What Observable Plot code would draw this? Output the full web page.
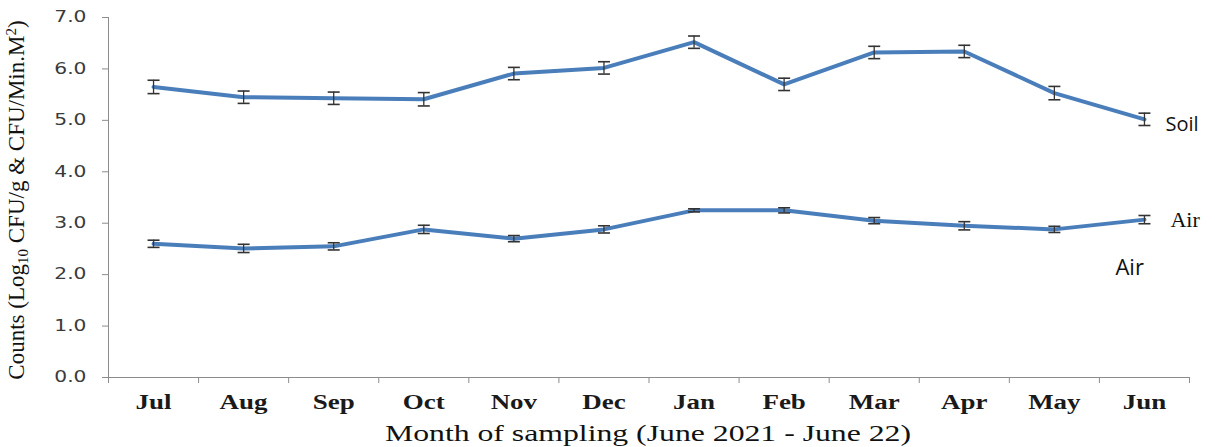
<!DOCTYPE html>
<html>
<head>
<meta charset="utf-8">
<script src="https://cdn.jsdelivr.net/npm/d3@7"></script>
<script src="https://cdn.jsdelivr.net/npm/@observablehq/plot@0.6"></script>
<style>
  html, body { margin: 0; padding: 0; background: #fff; }
  #chart { width: 1215px; height: 447px; }
</style>
</head>
<body>
<div id="chart"></div>
<script>
const months = ["Jul","Aug","Sep","Oct","Nov","Dec","Jan","Feb","Mar","Apr","May","Jun"];
const soil    = [5.65, 5.45, 5.43, 5.41, 5.91, 6.02, 6.52, 5.70, 6.32, 6.34, 5.53, 5.02];
const soilErr = [0.13, 0.12, 0.12, 0.13, 0.12, 0.12, 0.12, 0.12, 0.12, 0.12, 0.13, 0.12];
const air     = [2.60, 2.51, 2.55, 2.88, 2.70, 2.88, 3.25, 3.25, 3.05, 2.95, 2.88, 3.07];
const airErr  = [0.07, 0.08, 0.07, 0.08, 0.06, 0.07, 0.03, 0.05, 0.06, 0.08, 0.06, 0.08];
const yTicks  = [0, 1, 2, 3, 4, 5, 6, 7];
const yTitle  = ["Counts (Log", "10", " CFU/g & CFU/Min.M", "2", ")"];
const xTitle  = "Month of sampling (June 2021 - June 22)";

const rows = [];
months.forEach((m, i) => {
  rows.push({series: "Soil", idx: i, pos: i + 0.5, value: soil[i], err: soilErr[i]});
  rows.push({series: "Air", idx: i, pos: i + 0.5, value: air[i], err: airErr[i]});
});
const last = months.length - 1;
const labels = [
  {id: "lab-soil", text: "Soil", pos: last + 0.5, value: soil[last], font: "Open Sans", dx: 21, dy: 5, size: 20, sx: 1.3},
  {id: "lab-air1", text: "Air", pos: last + 0.5, value: air[last], font: "Liberation Serif", dx: 26, dy: 0, size: 22, sx: 1.18},
  {id: "lab-air2", text: "Air", pos: last + 0.5, value: air[last], font: "Open Sans", dx: -29, dy: 48, size: 22, sx: 1.1}
];

const capSymbol = {
  draw(context, size) {
    const r = Math.sqrt(size / Math.PI);
    context.moveTo(-r, 0);
    context.lineTo(r, 0);
  }
};

const blue = "#4a7ebb";
const serif = "Liberation Serif, Times New Roman, serif";

const plot = Plot.plot({
  width: 1215,
  height: 447,
  marginLeft: 108,
  marginRight: 26,
  marginTop: 17,
  marginBottom: 70,
  style: {background: "#fff", overflow: "visible"},
  x: {domain: [0, months.length], axis: null},
  y: {domain: [0, 7], axis: null},
  marks: [
    Plot.ruleX([0], {stroke: "#8c8c8c", strokeWidth: 1}),
    Plot.ruleY([0], {stroke: "#8c8c8c", strokeWidth: 1}),
    Plot.axisY({
      ticks: yTicks, tickFormat: d3.format(".1f"), tickSize: 6, tickPadding: 3,
      stroke: "#8c8c8c", label: null, fontFamily: "DejaVu Sans", fontSize: 15,
      fill: "#3a3a3a"
    }),
    Plot.axisX({
      ticks: d3.range(months.length + 1), tickFormat: () => "", tickSize: 6,
      stroke: "#8c8c8c", label: null
    }),
    Plot.axisX({
      ticks: months.map((m, i) => i + 0.5), tickFormat: d => months[Math.floor(d)],
      tickSize: 0, tickPadding: 17, label: null, fontFamily: serif, fontSize: 20,
      fontWeight: "bold", fill: "#1a1a1a"
    }),
    Plot.line(rows, {x: "pos", y: "value", z: "series", stroke: blue, strokeWidth: 4, strokeLinejoin: "round"}),
    Plot.ruleX(rows, {x: "pos", y1: d => d.value - d.err, y2: d => d.value + d.err, stroke: "#333", strokeWidth: 1.3}),
    Plot.dot(rows, {x: "pos", y: d => d.value - d.err, symbol: capSymbol, r: 6, stroke: "#333", strokeWidth: 1.6, fill: "none"}),
    Plot.dot(rows, {x: "pos", y: d => d.value + d.err, symbol: capSymbol, r: 6, stroke: "#333", strokeWidth: 1.6, fill: "none"}),
    ...labels.map(l => Plot.text([l], {
      ariaLabel: l.id, x: "pos", y: "value", text: "text", dx: l.dx, dy: l.dy, textAnchor: "start",
      fontFamily: l.font, fontSize: l.size, fill: "#111"
    }))
  ]
});

const svg = d3.select(plot);
// the reference's lettering is drawn wider than the fonts' natural width
function stretchTexts(sel, sx, shiftX = 0) {
  sel.each(function() {
    const t = this.getAttribute("transform") || "";
    this.setAttribute("transform", `${t} translate(${shiftX},0) scale(${sx},1)`);
  });
}
stretchTexts(svg.selectAll('g[aria-label="y-axis tick label"] text'), 1.35, -13);
stretchTexts(svg.selectAll('g[aria-label="x-axis tick label"] text'), 1.35);
labels.forEach(l => stretchTexts(svg.selectAll(`g[aria-label="${l.id}"] text`), l.sx));

// y axis title with subscript / superscript
const yt = svg.append("text")
  .attr("transform", "translate(24,200) rotate(-90)")
  .attr("text-anchor", "middle")
  .attr("font-family", serif)
  .attr("font-size", 23)
  .attr("fill", "#111");
yTitle.forEach((s, i) => {
  const t = yt.append("tspan").text(s);
  if (i === 1) t.attr("font-size", 15).attr("baseline-shift", "-25%");
  if (i === 3) t.attr("font-size", 15).attr("baseline-shift", "55%");
});
svg.append("text")
  .attr("transform", `translate(${(380 + 916) / 2},441) scale(1.38,1)`)
  .attr("text-anchor", "middle")
  .attr("font-family", serif)
  .attr("font-size", 23)
  .attr("fill", "#111")
  .text(xTitle);

document.getElementById("chart").appendChild(plot);
</script>
</body>
</html>
